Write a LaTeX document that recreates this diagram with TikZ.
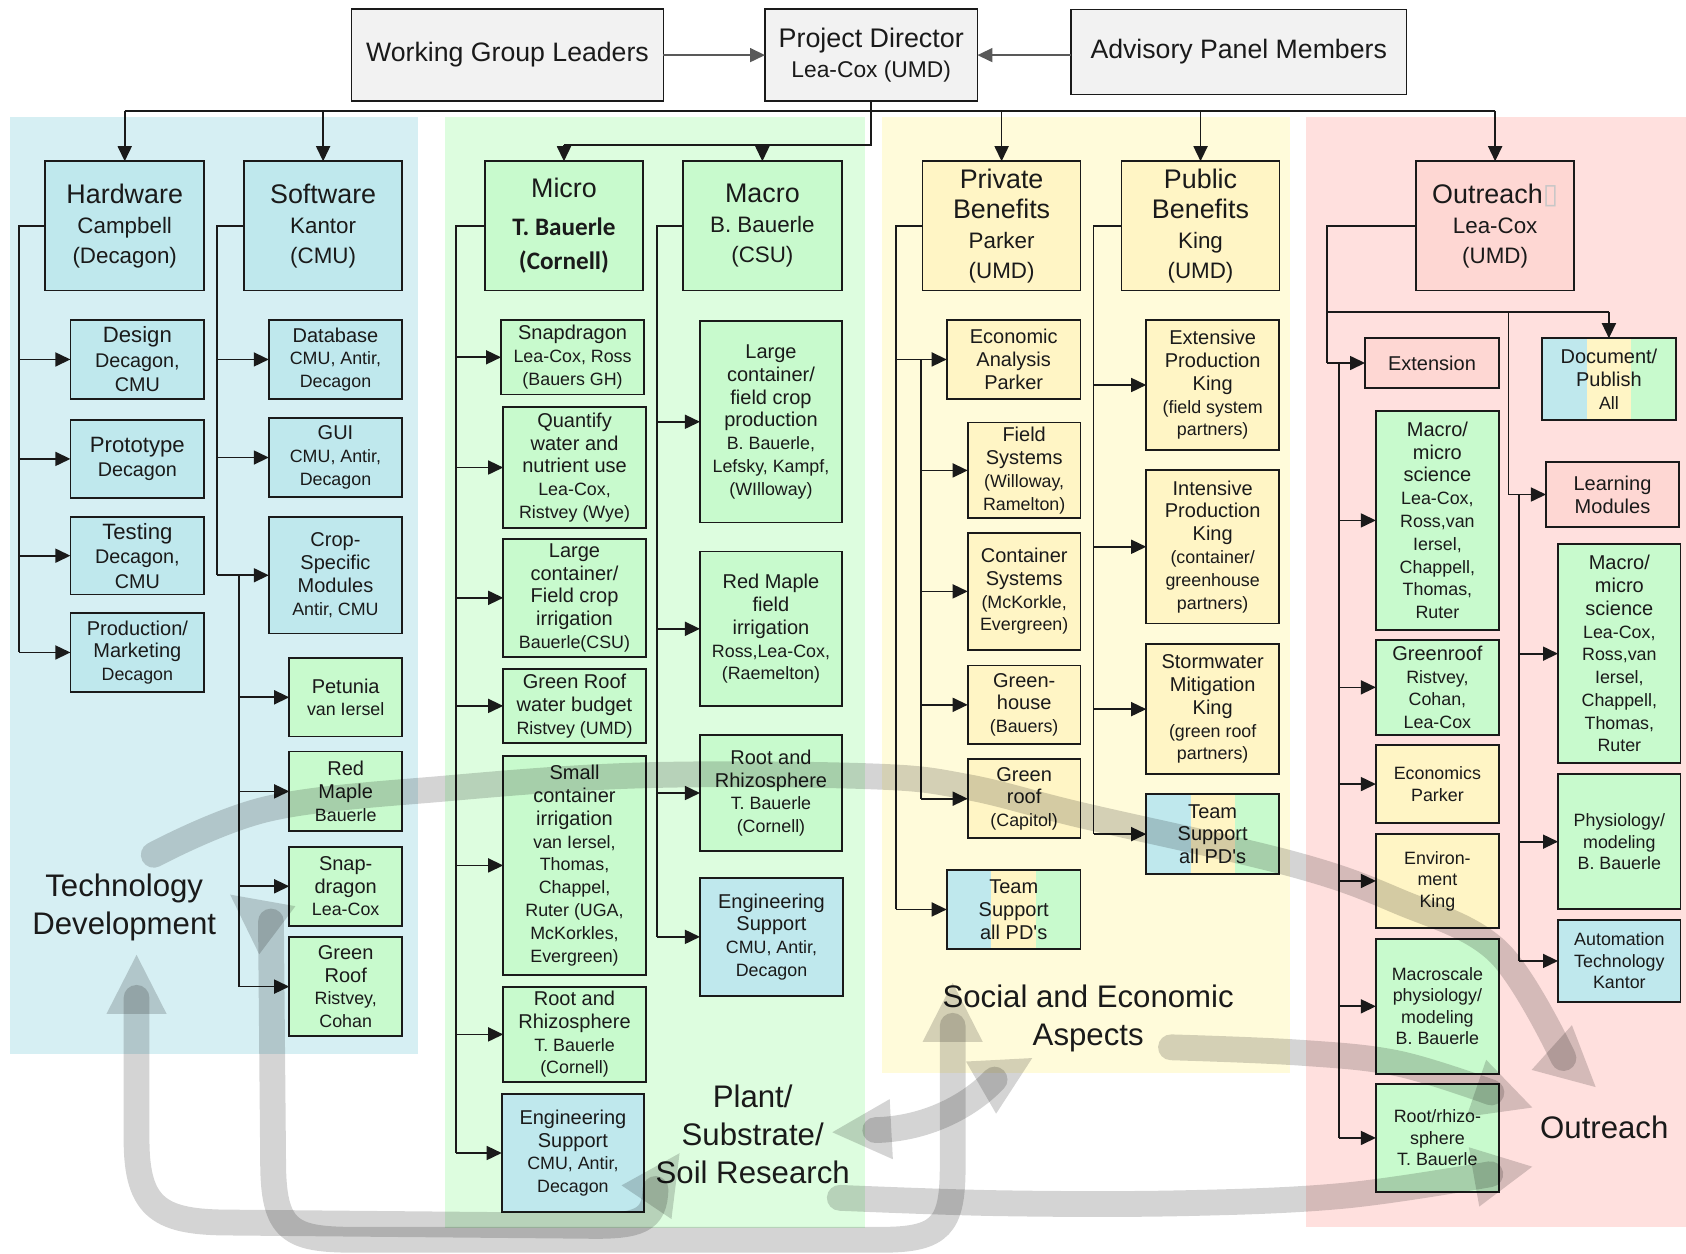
\documentclass[tikz,border=0pt]{standalone}
\usepackage{fontspec}
\setmainfont{Liberation Sans}
\newfontfamily\calib{Carlito}
\newfontfamily\djv{DejaVu Sans}
\usetikzlibrary{arrows.meta}

\definecolor{gbox}{RGB}{242,242,242}
\definecolor{bbox}{RGB}{191,232,237}
\definecolor{grbox}{RGB}{200,250,205}
\definecolor{ybox}{RGB}{255,245,197}
\definecolor{pbox}{RGB}{254,215,211}
\definecolor{bpanel}{RGB}{214,239,243}
\definecolor{gpanel}{RGB}{221,253,223}
\definecolor{ypanel}{RGB}{255,251,218}
\definecolor{ppanel}{RGB}{255,224,222}
\definecolor{ink}{RGB}{26,26,26}

% line sizes used inside the boxes
\newcommand\subf{\fontsize{8.3}{10.6}\selectfont}
\newcommand\midf{\fontsize{9.2}{11.4}\selectfont}
\newcommand\hsub{\fontsize{10.4}{14}\selectfont}
\newcommand\pds{all PD\textquotesingle s}

% box from its corners: name, x1, y1, x2, y2, style, text
\newcommand\bx[7]{%
  \pgfmathsetmacro\bxw{(#4-#2)*0.5}\pgfmathsetmacro\bxh{(#5-#3)*0.5}%
  \pgfmathsetmacro\bxcx{(#2+#4)/2}\pgfmathsetmacro\bxcy{(#3+#5)/2}%
  \node[box,#6,minimum width=\bxw pt,minimum height=\bxh pt] (#1) at (\bxcx,\bxcy) {#7};}

% three-colour striped background for shared boxes
\newcommand\stripes[4]{%
  \pgfmathsetmacro\sa{#1+(#3-#1)/3}\pgfmathsetmacro\sb{#1+2*(#3-#1)/3}%
  \fill[bbox] (#1,#2) rectangle (\sa,#4);
  \fill[ybox] (\sa,#2) rectangle (\sb,#4);
  \fill[grbox] (\sb,#2) rectangle (#3,#4);}

% head of a wide translucent flow arrow: tip x, tip y, direction
\newcommand\bhead[3]{%
  \fill[flowhead] (#1,#2) -- ++(#3+207:61.7) -- ++(#3+90:56) -- cycle;}

\tikzset{
  box/.style={draw=ink, line width=0.75pt, inner sep=0pt, outer sep=0pt,
    align=center, text=ink, font=\fontsize{9.3}{10.6}\selectfont},
  graybx/.style={fill=gbox},
  bluebx/.style={fill=bbox},
  greenbx/.style={fill=grbox},
  yellowbx/.style={fill=ybox},
  pinkbx/.style={fill=pbox},
  hdr/.style={font=\fontsize{12.5}{14}\selectfont},
  bigt/.style={font=\fontsize{10.3}{11.4}\selectfont},
  allsub/.style={font=\fontsize{8.3}{10}\selectfont},
  conn/.style={draw=ink, line width=0.8pt},
  arr/.style={conn, -{Triangle[length=7pt,width=6.5pt]}},
  lbl/.style={align=center, text=ink, font=\fontsize{14.5}{17.5}\selectfont},
  flow/.style={draw=black, draw opacity=0.17, line width=12pt, line cap=round},
  flowhead/.style={fill=black, fill opacity=0.17},
}

\begin{document}
\begin{tikzpicture}[x=0.5pt, y=-0.5pt]
\useasboundingbox (0,0) rectangle (1568,1166);

% theme panels
\fill[bpanel] (9.3,109) rectangle (388.6,980);
\fill[gpanel] (414,109) rectangle (804,1142);
\fill[ypanel] (820,109) rectangle (1200,998);
\fill[ppanel] (1215,109) rectangle (1568,1141);

% leadership row
\bx{wgl}{327}{8.5}{617}{94}{graybx}{\fontsize{12.4}{14}\selectfont Working Group Leaders}
\bx{pd}{711.5}{8.5}{909}{94}{graybx,hdr}{Project Director\\{\fontsize{10.6}{14}\selectfont Lea-Cox (UMD)}}
\bx{apm}{996}{8.7}{1308}{88}{graybx}{\fontsize{12.4}{14}\selectfont Advisory Panel Members}

% group heads
\bx{hw}{42}{150}{190}{270}{bluebx,hdr}{Hardware\\{\hsub Campbell}\\{\hsub (Decagon)}}
\bx{sw}{227}{150}{374}{270}{bluebx,hdr}{Software\\{\hsub Kantor}\\{\hsub (CMU)}}
\bx{micro}{451}{150}{598}{270}{greenbx,font=\fontsize{12.5}{16}\selectfont}{Micro\\[1.5pt]{\calib\bfseries\fontsize{11.7}{16}\selectfont T. Bauerle}\\{\calib\bfseries\fontsize{11.7}{16}\selectfont (Cornell)}}
\bx{macro}{635}{150}{783}{270}{greenbx,hdr}{Macro\\{\hsub B. Bauerle}\\{\hsub (CSU)}}
\bx{priv}{858}{150}{1005}{270}{yellowbx,hdr}{Private\\Benefits\\{\hsub Parker}\\{\hsub (UMD)}}
\bx{pub}{1043}{150}{1190}{270}{yellowbx,hdr}{Public\\Benefits\\{\hsub King}\\{\hsub (UMD)}}
\bx{out}{1317}{150}{1464}{270}{pinkbx,hdr}{Outreach{\djv\color{black!22}\fontsize{13}{14}\selectfont ▯}\\{\hsub Lea-Cox}\\{\hsub (UMD)}}

% hardware
\bx{design}{65.5}{297.6}{190}{371}{bluebx,bigt}{Design\\{\midf Decagon,}\\{\midf CMU}}
\bx{proto}{65.5}{390.6}{190}{463}{bluebx,bigt}{Prototype\\{\midf Decagon}}
\bx{testing}{65.5}{480.6}{190}{553}{bluebx,bigt}{Testing\\{\midf Decagon,}\\{\midf CMU}}
\bx{prodm}{65.5}{570}{190}{643.6}{bluebx}{Production/\\Marketing\\{\subf Decagon}}

% software
\bx{dbase}{250}{297.6}{374}{371}{bluebx}{Database\\{\subf CMU, Antir,}\\{\subf Decagon}}
\bx{gui}{250}{389}{374}{462}{bluebx}{GUI\\{\subf CMU, Antir,}\\{\subf Decagon}}
\bx{crop}{250}{481}{374}{589}{bluebx}{Crop-\\Specific\\Modules\\{\subf Antir, CMU}}
\bx{petunia}{269}{612}{374}{685}{greenbx}{Petunia\\{\subf van Iersel}}
\bx{tmaple}{269}{699}{374}{773}{greenbx}{Red\\Maple\\{\subf Bauerle}}
\bx{tsnap}{269}{787.5}{374}{861}{greenbx}{Snap-\\dragon\\{\subf Lea-Cox}}
\bx{tgroof}{269}{871.6}{374}{963.5}{greenbx}{Green\\Roof\\{\subf Ristvey,}\\{\subf Cohan}}

% micro
\bx{msnap}{466}{297.6}{599}{367}{greenbx}{Snapdragon\\{\subf Lea-Cox, Ross}\\{\subf (Bauers GH)}}
\bx{quant}{468}{378.6}{600.6}{491}{greenbx}{Quantify\\water and\\nutrient use\\{\subf Lea-Cox,}\\{\subf Ristvey (Wye)}}
\bx{lcont}{468}{501}{600.6}{611}{greenbx}{Large\\container/\\Field crop\\irrigation\\{\subf Bauerle(CSU)}}
\bx{mgroof}{468}{622}{600.6}{691}{greenbx}{Green Roof\\water budget\\{\subf Ristvey (UMD)}}
\bx{small}{468}{703}{600.6}{906.7}{greenbx}{Small\\container\\irrigation\\{\subf van Iersel,}\\{\subf Thomas,}\\{\subf Chappel,}\\{\subf Ruter (UGA,}\\{\subf McKorkles,}\\{\subf Evergreen)}}
\bx{mroot}{468}{918}{600.6}{1006}{greenbx}{Root and\\Rhizosphere\\{\subf T. Bauerle}\\{\subf (Cornell)}}
\bx{meng}{466.6}{1017.6}{599}{1127}{bluebx}{Engineering\\Support\\{\subf CMU, Antir,}\\{\subf Decagon}}

% macro
\bx{lprod}{651}{298.5}{783}{486}{greenbx}{Large\\container/\\field crop\\production\\{\subf B. Bauerle,}\\{\subf Lefsky, Kampf,}\\{\subf (WIlloway)}}
\bx{rmaple}{651}{513}{783}{656.6}{greenbx}{Red Maple\\field\\irrigation\\{\subf Ross,Lea-Cox,}\\{\subf (Raemelton)}}
\bx{aroot}{651}{683.5}{783}{791.5}{greenbx}{Root and\\Rhizosphere\\{\subf T. Bauerle}\\{\subf (Cornell)}}
\bx{aeng}{651}{816.6}{784}{926}{bluebx}{Engineering\\Support\\{\subf CMU, Antir,}\\{\subf Decagon}}

% private benefits
\bx{econ}{880.5}{297.6}{1005}{371}{yellowbx}{Economic\\Analysis\\Parker}
\bx{field}{900}{393}{1005}{482}{yellowbx}{Field\\Systems\\{\subf (Willoway,}\\{\subf Ramelton)}}
\bx{contsys}{900}{495.5}{1005}{604.5}{yellowbx}{Container\\Systems\\{\subf (McKorkle,}\\{\subf Evergreen)}}
\bx{ghouse}{900}{619}{1005}{692}{yellowbx}{Green-\\house\\{\subf (Bauers)}}
\bx{groof2}{900}{706}{1005}{779.6}{yellowbx}{Green\\roof\\{\subf (Capitol)}}
\stripes{880.5}{809}{1005}{882.6}
\bx{team1}{880.5}{809}{1005}{882.6}{}{Team\\Support\\\pds}

% public benefits
\bx{extp}{1066}{297.6}{1189.6}{418.5}{yellowbx}{Extensive\\Production\\King\\{\subf (field system}\\{\subf partners)}}
\bx{intp}{1066}{437}{1189.6}{580}{yellowbx}{Intensive\\Production\\King\\{\subf (container/}\\{\subf greenhouse}\\{\subf partners)}}
\bx{storm}{1066}{599}{1189.6}{720}{yellowbx}{Stormwater\\Mitigation\\King\\{\subf (green roof}\\{\subf partners)}}
\stripes{1066}{738.5}{1189.6}{813}
\bx{team2}{1066}{738.5}{1189.6}{813}{}{Team\\Support\\\pds}

% outreach
\bx{ext}{1269.5}{314.6}{1394}{360.6}{pinkbx}{Extension}
\stripes{1434}{314.6}{1558.6}{390.6}
\bx{docpub}{1434}{314.6}{1558.6}{390.6}{}{Document/\\Publish\\{\subf All}}
\bx{learn}{1437.8}{429.8}{1561.5}{490}{pinkbx}{Learning\\Modules}
\bx{omm1}{1279.6}{382}{1394}{586}{greenbx}{Macro/\\micro\\science\\{\subf Lea-Cox,}\\{\subf Ross,van}\\{\subf Iersel,}\\{\subf Chappell,}\\{\subf Thomas,}\\{\subf Ruter}}
\bx{ogreen}{1279.6}{595}{1394}{683.5}{greenbx}{Greenroof\\{\subf Ristvey,}\\{\subf Cohan,}\\{\subf Lea-Cox}}
\bx{oecon}{1279.6}{692.8}{1394}{765.6}{yellowbx,allsub}{Economics\\Parker}
\bx{oenv}{1279.6}{775.6}{1394}{863}{yellowbx,allsub}{Environ-\\ment\\King}
\bx{omacro}{1279.6}{873}{1394}{998.8}{greenbx,allsub}{Macroscale\\physiology/\\modeling\\B. Bauerle}
\bx{orhiz}{1279.6}{1008}{1394}{1108.6}{greenbx,allsub}{Root/rhizo-\\sphere\\T. Bauerle}
\bx{omm2}{1449}{506}{1563}{709.8}{greenbx}{Macro/\\micro\\science\\{\subf Lea-Cox,}\\{\subf Ross,van}\\{\subf Iersel,}\\{\subf Chappell,}\\{\subf Thomas,}\\{\subf Ruter}}
\bx{physio}{1449}{720}{1563}{845.5}{greenbx,allsub}{Physiology/\\modeling\\B. Bauerle}
\bx{autom}{1449}{855.6}{1563}{931.8}{bluebx,allsub}{Automation\\Technology\\Kantor}

% leadership links
\draw[arr,draw=black!65] (wgl) -- (pd);
\draw[arr,draw=black!65] (apm.west |- pd.east) -- (pd.east);

% distribution bus from the director
\coordinate (busy) at (0,103);
\coordinate (mby) at (0,135);
\draw[conn] (pd.south) -- (pd.south |- mby) -- (micro.north |- mby);
\draw[conn] (hw.north |- busy) -- (out.north |- busy);
\foreach \n in {hw,sw,priv,pub,out} \draw[arr] (\n.north |- busy) -- (\n.north);
\foreach \n in {micro,macro} \draw[arr] (\n.north |- mby) -- (\n.north);

% hardware tree
\coordinate (hwx) at (18,0);
\draw[conn] (hw.west) -- (hw.west -| hwx) -- (hwx |- prodm.west);
\foreach \n in {design,proto,testing,prodm} \draw[arr] (hwx |- \n.west) -- (\n.west);

% software tree
\coordinate (swx) at (202,0);
\draw[conn] (sw.west) -- (sw.west -| swx) -- (swx |- crop.west);
\foreach \n in {dbase,gui,crop} \draw[arr] (swx |- \n.west) -- (\n.west);
\coordinate (swx2) at (222,0);
\draw[conn] (swx2 |- crop.west) -- (swx2 |- tgroof.west);
\foreach \n in {petunia,tmaple,tsnap,tgroof} \draw[arr] (swx2 |- \n.west) -- (\n.west);

% micro tree
\coordinate (mix) at (424,0);
\draw[conn] (micro.west) -- (micro.west -| mix) -- (mix |- meng.west);
\foreach \n in {msnap,quant,lcont,mgroof,small,mroot,meng} \draw[arr] (mix |- \n.west) -- (\n.west);

% macro tree
\coordinate (max) at (611,0);
\draw[conn] (macro.west) -- (macro.west -| max) -- (max |- aeng.west);
\foreach \n in {lprod,rmaple,aroot,aeng} \draw[arr] (max |- \n.west) -- (\n.west);

% private benefits tree
\coordinate (prx) at (833,0);
\draw[conn] (priv.west) -- (priv.west -| prx) -- (prx |- team1.west);
\foreach \n in {econ,team1} \draw[arr] (prx |- \n.west) -- (\n.west);
\coordinate (prx2) at (856.5,0);
\draw[conn] (prx2 |- econ.west) -- (prx2 |- groof2.west);
\foreach \n in {field,contsys,ghouse,groof2} \draw[arr] (prx2 |- \n.west) -- (\n.west);

% public benefits tree
\coordinate (pux) at (1017,0);
\draw[conn] (pub.west) -- (pub.west -| pux) -- (pux |- team2.west);
\foreach \n in {extp,intp,storm,team2} \draw[arr] (pux |- \n.west) -- (\n.west);

% outreach tree
\coordinate (ox) at (1234,0);
\coordinate (oy) at (0,290);
\draw[conn] (out.west) -- (out.west -| ox) -- (ox |- ext.west);
\draw[arr] (ox |- ext.west) -- (ext.west);
\draw[conn] (ox |- oy) -- (docpub.north |- oy);
\draw[arr] (docpub.north |- oy) -- (docpub.north);
\coordinate (ox2) at (1245,0);
\draw[conn] (ox2 |- ext.west) -- (ox2 |- orhiz.west);
\foreach \n in {omm1,ogreen,oecon,oenv,omacro,orhiz} \draw[arr] (ox2 |- \n.west) -- (\n.west);
\coordinate (ox3) at (1403,0);
\draw[conn] (ox3 |- oy) -- (ox3 |- learn.west);
\draw[arr] (ox3 |- learn.west) -- (learn.west);
\coordinate (ox4) at (1412.6,0);
\draw[conn] (ox4 |- learn.west) -- (ox4 |- autom.west);
\foreach \n in {omm2,physio,autom} \draw[arr] (ox4 |- \n.west) -- (\n.west);

% theme labels
\node[lbl] (techlbl) at (115.5,844) {Technology\\Development};
\node[lbl] (plantlbl) at (700,1055) {Plant/\\Substrate/\\Soil Research};
\node[lbl] (sociallbl) at (1012,947) {Social and Economic\\Aspects};
\node[lbl] (outlbl) at (1492,1048) {Outreach};

% translucent flows between the themes
\draw[flow] plot[smooth, tension=0.6] coordinates {(143,795) (250,752) (418,733) (600,721) (810,722) (900,732) (1005,758) (1200,803) (1300,838) (1393,885) (1454,984)};
\bhead{1484}{1011}{42}
\draw[flow] plot[smooth, tension=0.6] coordinates {(1089,974) (1209,979) (1300,989) (1387,1016)};
\bhead{1425}{1030}{19}
\draw[flow] plot[smooth, tension=0.6] coordinates {(781,1114) (930,1119) (1100,1119) (1250,1112) (1386,1092)};
\bhead{1425}{1085}{-10}
\draw[flow] (127,928) -- (127,1060) .. controls (127,1125) and (150,1137) .. (215,1137) -- (545,1140) .. controls (595,1141) and (609,1135) .. (609.6,1105.7);
\bhead{127}{888}{-90}
\bhead{632}{1072.5}{-56}
\draw[flow] (252,857) -- (254,1080) .. controls (254,1145) and (270,1153) .. (330,1153) -- (820,1153) .. controls (875,1153) and (886,1140) .. (886,1085) -- (886,954);
\bhead{214}{832}{217}
\bhead{886}{914}{-90}
\draw[flow] (814,1051) .. controls (860,1050) and (900,1030) .. (925,1004);
\bhead{774}{1053}{177}
\bhead{960}{984}{-30}
\end{tikzpicture}
\end{document}
